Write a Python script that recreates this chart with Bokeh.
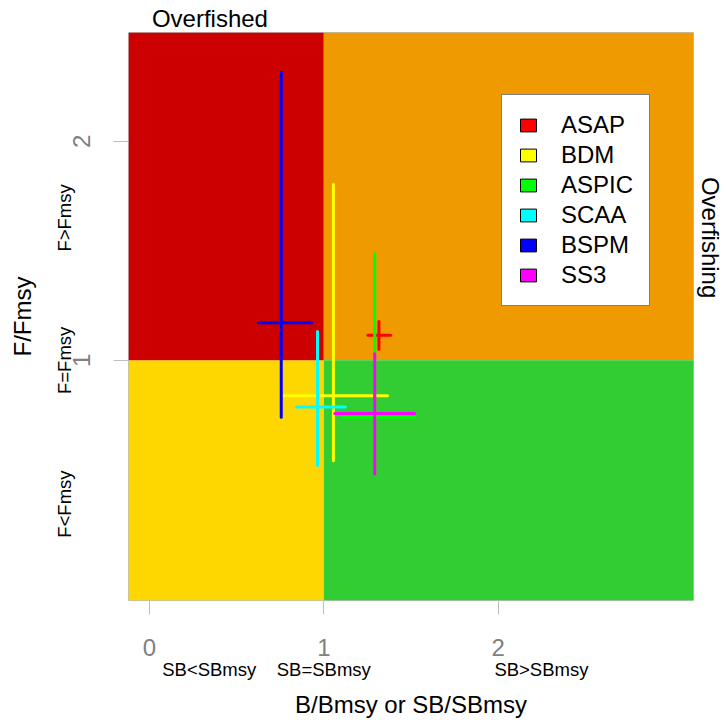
from bokeh.plotting import figure
from bokeh.models import Range1d, LinearAxis, FixedTicker, Legend, LegendItem, ColumnDataSource
from bokeh.embed import file_html
from bokeh.resources import INLINE

# ---- data ----
models = ["ASAP", "BDM", "ASPIC", "SCAA", "BSPM", "SS3"]
colors = ["#FF0000", "#FFFF00", "#00FF00", "#00FFFF", "#0000FF", "#FF00FF"]
b_med = [1.316, 1.055, 1.292, 0.964, 0.756, 1.292]
b_lo  = [1.253, 0.771, 1.109, 0.844, 0.625, 1.063]
b_hi  = [1.383, 1.366, 1.524, 1.124, 0.930, 1.520]
f_med = [1.115, 0.838, 0.740, 0.787, 1.171, 0.757]
f_lo  = [1.050, 0.542, 0.550, 0.520, 0.740, 0.481]
f_hi  = [1.177, 1.802, 1.486, 1.131, 2.315, 1.030]

xlim = [0.0, 3.0]
ylim = [0.0, 2.4]
ref_b = 1.0
ref_f = 1.0
quad_colors = ["#FFD700", "#CD0000", "#EE9A00", "#32CD32"]  # BL, TL, TR, BR

x_ticks = [0, 1, 2]
y_ticks = [1, 2]
b_class_pos = [0.343, 1.0, 2.248]
b_class_lab = ["SB<SBmsy", "SB=SBmsy", "SB>SBmsy"]
f_class_pos = [0.344, 1.0, 1.65]
f_class_lab = ["F<Fmsy", "F=Fmsy", "F>Fmsy"]
top_lab_pos = [0.347]
top_lab = ["Overfished"]
right_lab_pos = [1.56]
right_lab = ["Overfishing"]

FONT = "Liberation Sans"
NAN = float("nan")

# ---- ranges (R style 4% extension) ----
dx = 0.04 * (xlim[1] - xlim[0])
dy = 0.04 * (ylim[1] - ylim[0])
x0, x1 = xlim[0] - dx, xlim[1] + dx
y0, y1 = ylim[0] - dy, ylim[1] + dy

p = figure(width=726, height=720, x_range=Range1d(x0, x1), y_range=Range1d(y0, y1),
           output_backend="svg", toolbar_location=None,
           min_border_left=128, min_border_right=29, min_border_top=32, min_border_bottom=120)
p.grid.visible = False
p.outline_line_color = "#BEBEBE"
p.outline_line_width = 1
p.background_fill_color = "white"
p.border_fill_color = "white"

# quadrants
qsrc = ColumnDataSource(dict(
    left=[x0, x0, ref_b, ref_b],
    right=[ref_b, ref_b, x1, x1],
    bottom=[y0, ref_f, ref_f, y0],
    top=[ref_f, y1, y1, ref_f],
    color=quad_colors,
))
p.quad(left="left", right="right", bottom="bottom", top="top", fill_color="color",
       line_color=None, source=qsrc)

# crosses (horizontal then vertical for each model, in order)
sx0, sx1, sy0, sy1, sc = [], [], [], [], []
for i in range(len(models)):
    sx0 += [b_lo[i], b_med[i]]
    sx1 += [b_hi[i], b_med[i]]
    sy0 += [f_med[i], f_lo[i]]
    sy1 += [f_med[i], f_hi[i]]
    sc += [colors[i], colors[i]]
ssrc = ColumnDataSource(dict(x0=sx0, x1=sx1, y0=sy0, y1=sy1, c=sc))
p.segment(x0="x0", y0="y0", x1="x1", y1="y1", line_color="c", line_width=3,
          line_cap="round", source=ssrc)

# legend (icon-only renderers with no visible data)
items = []
for m, c in zip(models, colors):
    r = p.quad(left=[NAN], right=[NAN], top=[NAN], bottom=[NAN],
               fill_color=c, line_color="black", line_width=1)
    items.append(LegendItem(label=m, renderers=[r]))
leg = Legend(items=items, location=(373, 294), glyph_width=20, glyph_height=16,
             label_text_font_size="24px", label_text_font=FONT, label_text_color="black",
             label_height=24, spacing=2, padding=16, margin=0, label_standoff=23,
             border_line_color="black", border_line_width=1,
             background_fill_color="white", background_fill_alpha=1.0)
p.add_layout(leg, "center")

def style_ticks(ax):
    ax.axis_line_color = None
    ax.minor_tick_line_color = None
    ax.major_label_text_font = FONT
    ax.axis_label_text_font = FONT
    ax.axis_label_text_font_style = "normal"

# main x axis
xa = p.xaxis[0]
xa.ticker = FixedTicker(ticks=x_ticks)
style_ticks(xa)
xa.major_tick_out = 14
xa.major_tick_in = 0
xa.major_tick_line_color = "#BEBEBE"
xa.major_label_text_font_size = "24px"
xa.major_label_text_color = "#808080"
xa.major_label_standoff = 24

# outer x axis with class labels and title
xb = LinearAxis(ticker=FixedTicker(ticks=b_class_pos),
                major_label_overrides={v: t for v, t in zip(b_class_pos, b_class_lab)},
                axis_label="B/Bmsy or SB/SBmsy")
style_ticks(xb)
xb.major_tick_line_color = None
xb.major_tick_out = 0
xb.major_tick_in = 0
xb.major_label_text_font_size = "18.5px"
xb.major_label_text_color = "black"
xb.major_label_standoff = 0
xb.axis_label_text_font_size = "24px"
xb.axis_label_text_color = "black"
xb.axis_label_standoff = 8
p.add_layout(xb, "below")

# main y axis
ya = p.yaxis[0]
ya.ticker = FixedTicker(ticks=y_ticks)
style_ticks(ya)
ya.major_tick_out = 15
ya.major_tick_in = 0
ya.major_tick_line_color = "#BEBEBE"
ya.major_label_text_font_size = "24px"
ya.major_label_text_color = "#808080"
ya.major_label_orientation = "vertical"
ya.major_label_standoff = 23

# outer y axis with class labels and title
yb = LinearAxis(ticker=FixedTicker(ticks=f_class_pos),
                major_label_overrides={v: t for v, t in zip(f_class_pos, f_class_lab)},
                axis_label="F/Fmsy")
style_ticks(yb)
yb.major_tick_line_color = None
yb.major_tick_out = 0
yb.major_tick_in = 0
yb.major_label_text_font_size = "18.5px"
yb.major_label_text_color = "black"
yb.major_label_orientation = "vertical"
yb.major_label_standoff = -5
yb.axis_label_text_font_size = "24px"
yb.axis_label_text_color = "black"
yb.axis_label_standoff = 16
p.add_layout(yb, "left")

# top label
xt = LinearAxis(ticker=FixedTicker(ticks=top_lab_pos),
                major_label_overrides={v: t for v, t in zip(top_lab_pos, top_lab)})
style_ticks(xt)
xt.major_tick_line_color = None
xt.major_tick_out = 0
xt.major_tick_in = 0
xt.major_label_text_font_size = "24px"
xt.major_label_text_color = "black"
xt.major_label_standoff = 1
p.add_layout(xt, "above")

# right label
yr = LinearAxis(ticker=FixedTicker(ticks=right_lab_pos),
                major_label_overrides={v: t for v, t in zip(right_lab_pos, right_lab)})
style_ticks(yr)
yr.major_tick_line_color = None
yr.major_tick_out = 0
yr.major_tick_in = 0
yr.major_label_text_font_size = "24px"
yr.major_label_text_color = "black"
yr.major_label_orientation = "vertical"
yr.major_label_standoff = 3
p.add_layout(yr, "right")

open("out.html", "w").write(file_html(p, INLINE))
